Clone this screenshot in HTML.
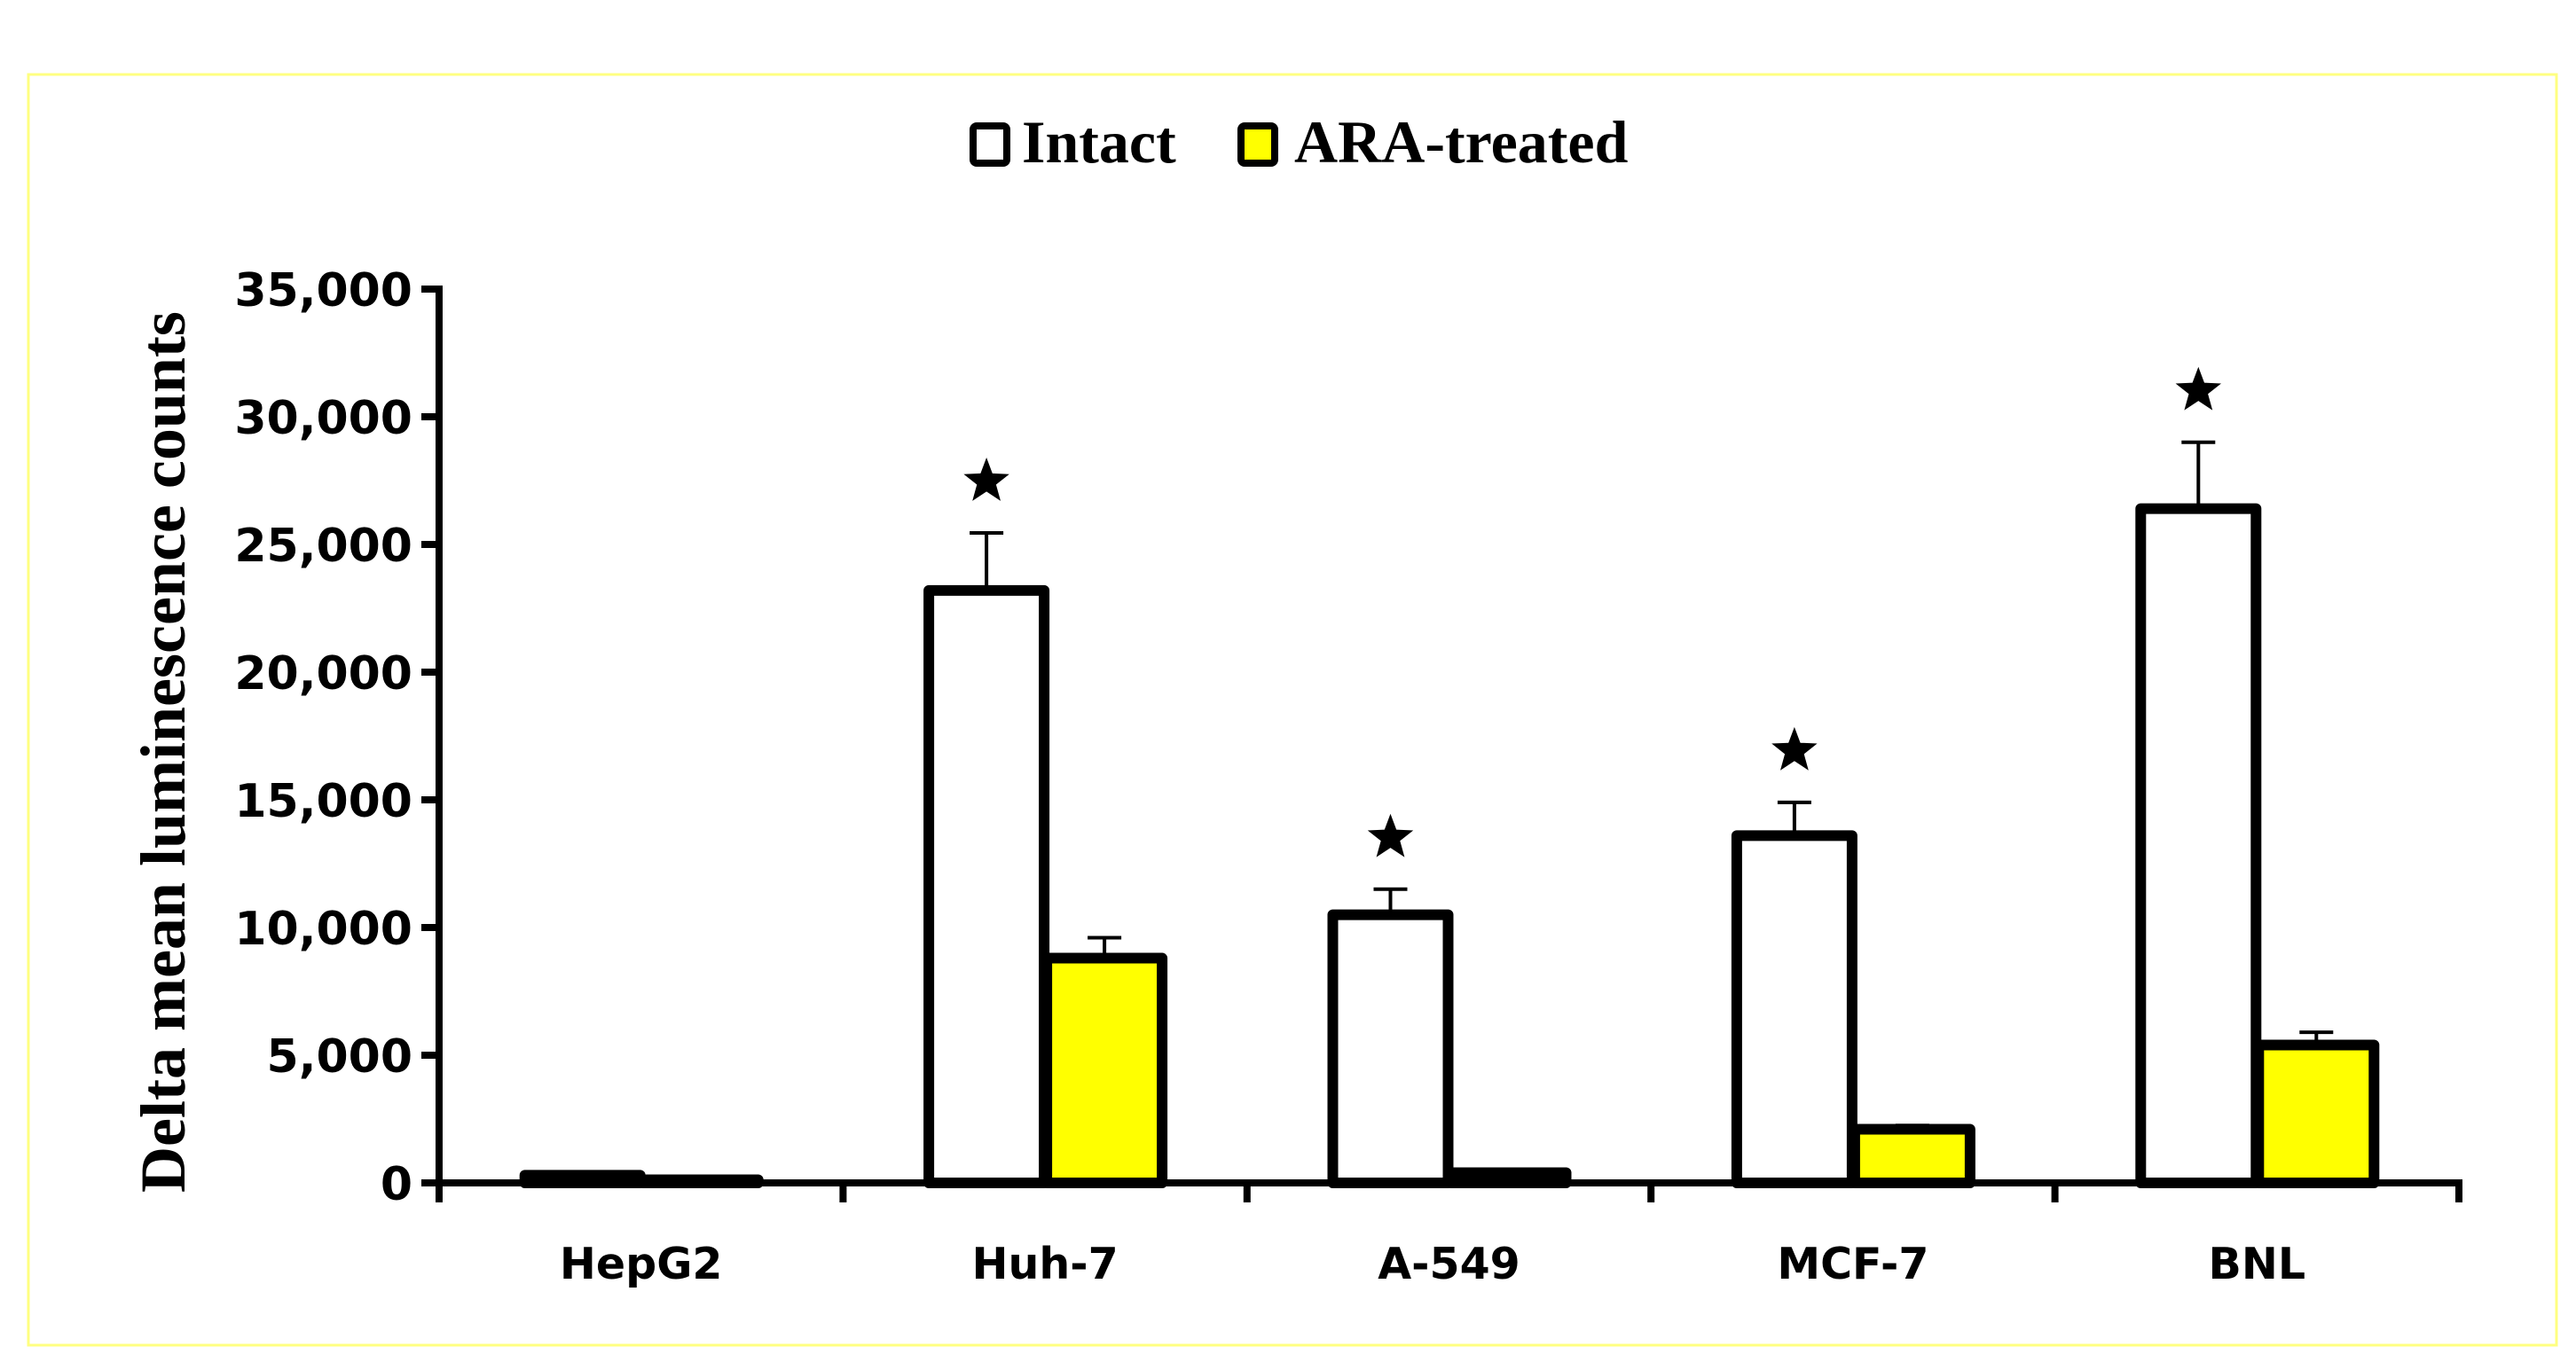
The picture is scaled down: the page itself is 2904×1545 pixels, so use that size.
<!DOCTYPE html>
<html><head><meta charset="utf-8"><style>
html,body{margin:0;padding:0;background:#fff}
svg{display:block}
</style></head><body>
<svg id="chart" width="2904" height="1545" viewBox="0 0 2904 1545" xmlns="http://www.w3.org/2000/svg">
<rect x="32" y="84" width="2850" height="1433" fill="#fff" stroke="#ffff80" stroke-width="3"/>
<g>
 <g>
  <rect x="1097" y="142" width="38" height="42" rx="4" fill="#fff" stroke="#000" stroke-width="8"/>
  <text x="1152" y="183" font-family="Liberation Serif, serif" font-weight="bold" font-size="68">Intact</text>
 </g>
 <g>
  <rect x="1399" y="142" width="38" height="42" rx="4" fill="#ffff00" stroke="#000" stroke-width="8"/>
  <text x="1459" y="183" font-family="Liberation Serif, serif" font-weight="bold" font-size="68">ARA-treated</text>
 </g>
</g>
<text transform="translate(208,848) rotate(-90)" text-anchor="middle" font-family="Liberation Serif, serif" font-weight="bold" font-size="72">Delta mean luminescence counts</text>
<g id="plot"></g>
</svg>
<script>
const categories = ["HepG2","Huh-7","A-549","MCF-7","BNL"];
const intactValues = [300, 23200, 10500, 13600, 26400];
const intactErrors = [0, 2250, 1000, 1300, 2600];
const araValues = [120, 8800, 400, 2100, 5400];
const araErrors = [0, 800, 0, 150, 500];
const significant = [false, true, true, true, true];
const yTicks = [0, 5000, 10000, 15000, 20000, 25000, 30000, 35000];
const yTickLabels = ["0","5,000","10,000","15,000","20,000","25,000","30,000","35,000"];

const NS = "http://www.w3.org/2000/svg";
const plot = document.getElementById('plot');
const X0 = 495, X1 = 2772, Y0 = 1334, YT = 326, YMAX = 35000;
const catW = (X1 - X0) / categories.length;
const barW = 130;
function y(v){ return Y0 - (v / YMAX) * (Y0 - YT); }
function xc(i){ return X0 + catW * (i + 0.5); }
function mk(tag, attrs, parent){
  const el = document.createElementNS(NS, tag);
  for (const k in attrs) el.setAttribute(k, attrs[k]);
  (parent || plot).appendChild(el);
  return el;
}
function errBar(cx, v, e, name){
  if (e <= 0) return;
  const g = mk('g', {stroke:'#000','stroke-width':4});
  
  
  mk('line', {x1:cx, x2:cx, y1:y(v), y2:y(v+e)}, g);
  mk('line', {x1:cx-19, x2:cx+19, y1:y(v+e), y2:y(v+e)}, g);
}
function star(cx, cy, r, name){
  let pts = [];
  for (let k = 0; k < 10; k++){
    const a = -Math.PI/2 + k*Math.PI/5;
    const rr = k % 2 ? r*0.42 : r;
    pts.push((cx + rr*Math.cos(a)).toFixed(1) + ',' + (cy + rr*Math.sin(a)).toFixed(1));
  }
  const p = mk('polygon', {points: pts.join(' '), fill:'#000'});
  
  
}
categories.forEach((c, i) => {
  const cx = xc(i);
  const ix = cx - barW - 1, ax = cx + 2;
  const b1 = mk('rect', {x:ix, y:y(intactValues[i]), width:barW, height:Math.max(Y0 - y(intactValues[i]), 0.1), fill:'#fff', stroke:'#000', 'stroke-width':12, 'stroke-linejoin':'round'});
  
  
  const b2 = mk('rect', {x:ax, y:y(araValues[i]), width:barW, height:Math.max(Y0 - y(araValues[i]), 0.1), fill:'#ffff00', stroke:'#000', 'stroke-width':12, 'stroke-linejoin':'round'});
  
  
  errBar(ix + barW/2, intactValues[i], intactErrors[i], 'error-bar-intact-' + c.toLowerCase());
  errBar(ax + barW/2, araValues[i], araErrors[i], 'error-bar-ara-' + c.toLowerCase());
  if (significant[i]) star(ix + barW/2, y(intactValues[i] + intactErrors[i]) - 58, 27, 'significance-star-' + c.toLowerCase());
  const t = mk('text', {x:cx, y:1442, 'text-anchor':'middle', 'font-family':'DejaVu Sans, sans-serif', 'font-weight':'bold', 'font-size':49});
  t.textContent = c;
  
  
});
const axes = mk('g', {stroke:'#000','stroke-width':8});


mk('line', {x1:X0, x2:X0, y1:YT-4, y2:Y0+22}, axes);
mk('line', {x1:X0-20, x2:X1+4, y1:Y0, y2:Y0}, axes);
for (let i = 0; i <= categories.length; i++){
  mk('line', {x1:X0+catW*i, x2:X0+catW*i, y1:Y0, y2:Y0+22}, axes);
}
yTicks.forEach((v, i) => {
  mk('line', {x1:X0-20, x2:X0, y1:y(v), y2:y(v)}, axes);
  const t = mk('text', {x:X0-30, y:y(v)+19, 'text-anchor':'end', 'font-family':'DejaVu Sans, sans-serif', 'font-weight':'bold', 'font-size':52});
  t.textContent = yTickLabels[i];
  
  
});
</script>
</body></html>
